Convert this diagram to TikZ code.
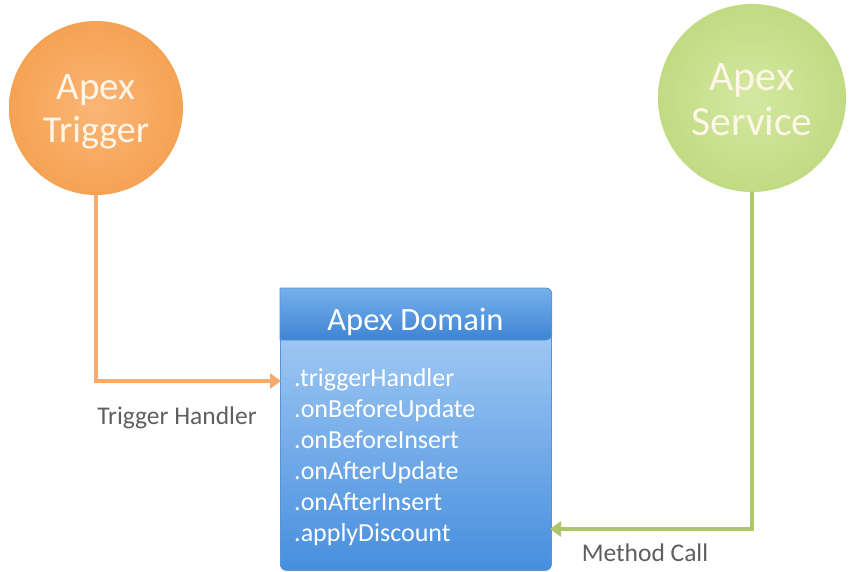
\documentclass[tikz,border=0pt]{standalone}
\usepackage{fontspec}
\setmainfont{Carlito}
\usetikzlibrary{arrows.meta}

\definecolor{trigOuter}{RGB}{245,162,84}
\definecolor{trigInner}{RGB}{250,182,118}
\definecolor{servOuter}{RGB}{192,219,130}
\definecolor{servInner}{RGB}{212,233,162}
\definecolor{trigLine}{RGB}{246,170,108}
\definecolor{servLine}{RGB}{172,198,104}
\definecolor{headTop}{RGB}{118,176,236}
\definecolor{headBot}{RGB}{62,132,212}
\definecolor{bodyTop}{RGB}{176,211,247}
\definecolor{bodyBot}{RGB}{70,142,222}
\definecolor{boxEdge}{RGB}{92,146,208}
\definecolor{labelGray}{RGB}{95,95,95}
\definecolor{softWhite}{RGB}{255,246,232}

\tikzset{
  ball/.style={circle, minimum size=#1, inner sep=0pt},
  balltext/.style={text=softWhite, anchor=base, inner sep=0pt},
  flow/.style={line width=3.6pt, line join=miter,
    -{Triangle[length=11pt,width=15pt]}},
  caption/.style={text=labelGray, anchor=base, inner sep=0pt,
    font=\fontsize{25.5}{30}\selectfont},
}

\begin{document}
\begin{tikzpicture}[x=1pt,y=-1pt]
\useasboundingbox (0,0) rectangle (850,571);
\fill[white] (0,0) rectangle (850,571);

% the two callers
\node[ball=174pt, inner color=trigInner, outer color=trigOuter] (trigger) at (96,108) {};
\node[balltext, font=\fontsize{39}{43}\selectfont] (trigA) at (96,99) {Apex};
\node[balltext, font=\fontsize{38}{43}\selectfont] (trigB) at (96,142) {Trigger};
\node[ball=188pt, inner color=servInner, outer color=servOuter] (service) at (752,98) {};
\node[balltext, font=\fontsize{42}{45}\selectfont] (servA) at (752,90) {Apex};
\node[balltext, font=\fontsize{41.5}{45}\selectfont] (servB) at (752,135) {Service};

% domain class box
\node[rectangle, draw=boxEdge, line width=0.8pt, rounded corners=6pt,
      top color=bodyTop, bottom color=bodyBot,
      minimum width=271pt, minimum height=282pt, anchor=north west,
      inner sep=0pt] (domain) at (280,288) {};
\shade[top color=headTop, bottom color=headBot, draw=boxEdge, line width=0.8pt]
  (domain.west |- 0,340) -- (domain.north west) [rounded corners=6pt]
  -- (domain.north east) -- (domain.east |- 0,340) [sharp corners] -- cycle;
\node[text=white, anchor=base, inner sep=0pt,
      font=\fontsize{32.5}{36}\selectfont] (title) at (415.5,330) {Apex Domain};
% method list: anchored at the baseline of its last line
\node[text=white, anchor=base west, align=left, inner sep=0pt,
      font=\fontsize{26}{31}\selectfont] (methods) at (294,541)
  {.triggerHandler\\.onBeforeUpdate\\.onBeforeInsert\\.onAfterUpdate\\.onAfterInsert\\.applyDiscount};

% connectors
\coordinate (trigIn) at (281,381);
\coordinate (servIn) at (550,529);
\draw[flow, trigLine] (trigger.south) |- (trigIn);
\draw[flow, servLine] (service.south) |- (servIn);

\node[caption] (trigLabel) at (177,424) {Trigger Handler};
\node[caption] (servLabel) at (645,561) {Method Call};
\end{tikzpicture}
\end{document}
